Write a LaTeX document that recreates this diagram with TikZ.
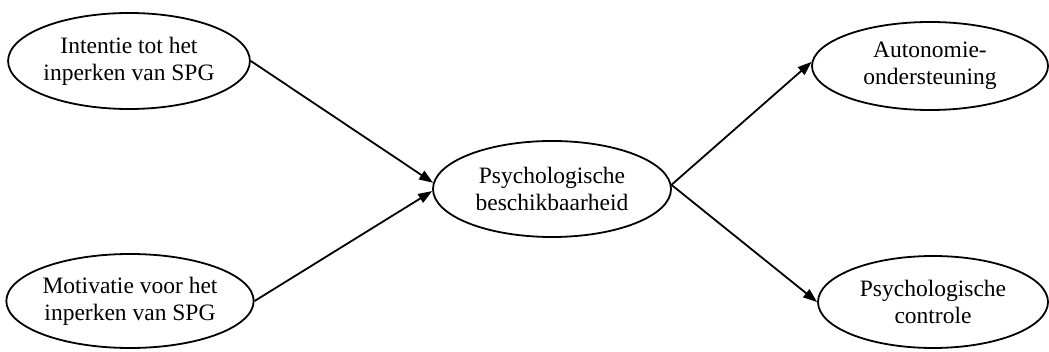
\documentclass[tikz,border=0pt]{standalone}
\usepackage{fontspec}
\setmainfont{Liberation Serif}
\usetikzlibrary{shapes.geometric,arrows.meta}
\begin{document}
\begin{tikzpicture}[x=1pt,y=-1pt,
  construct/.style={ellipse, draw, line width=1.8pt, inner sep=0pt, align=center,
    font=\fontsize{23.5}{27}\selectfont},
  effect/.style={line width=1.8pt, -{Triangle[length=14pt,width=10pt]}}]
\useasboundingbox (0,0) rectangle (1049,352);
% predictors
\node[construct, minimum width=238pt, minimum height=96pt] (A) at (129,61) {Intentie tot het\\inperken van SPG};
\node[construct, minimum width=240pt, minimum height=94pt] (B) at (130,301) {Motivatie voor het\\inperken van SPG};
% mediator
\node[construct, minimum width=238pt, minimum height=96pt] (C) at (552,189) {Psychologische\\beschikbaarheid};
% outcomes
\node[construct, minimum width=236pt, minimum height=88pt] (D) at (930,66) {Autonomie-\\ondersteuning};
\node[construct, minimum width=230pt, minimum height=92pt] (E) at (933,302) {Psychologische\\controle};
% paths
\draw[effect] (A.east) -- (C.177);
\draw[effect] (B.east) -- (C.181);
\draw[effect] (C.2) -- (D.178);
\draw[effect] (C.2) -- (E.west);
\end{tikzpicture}
\end{document}
